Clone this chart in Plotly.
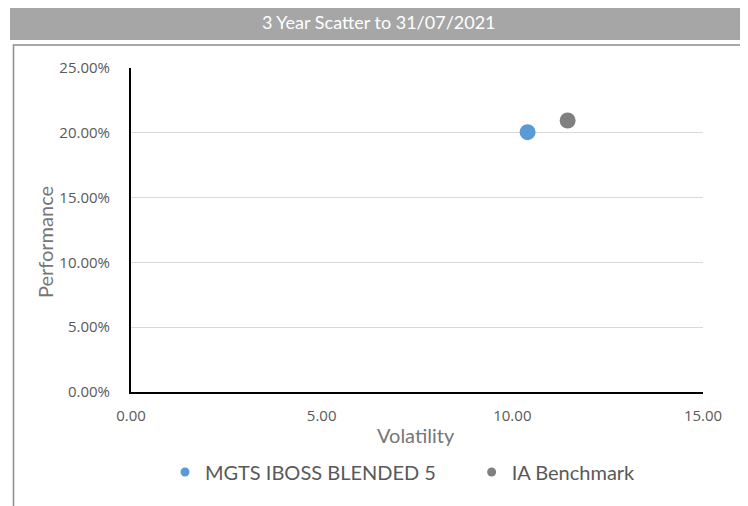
import plotly.graph_objects as go

series_names = ["MGTS IBOSS BLENDED 5", "IA Benchmark"]
volatility = [10.4, 11.45]
performance = [0.2005, 0.2095]
colors = ["#5b9bd5", "#808080"]

x_ticks = [0, 5, 10, 15]
y_ticks = [0, 0.05, 0.10, 0.15, 0.20, 0.25]

legend_pad = ["&nbsp;" * 6, ""]

fig = go.Figure()
for name, vx, vy, c, pad in zip(series_names, volatility, performance, colors, legend_pad):
    fig.add_trace(go.Scatter(x=[vx], y=[vy], mode="markers", name=name,
                             marker=dict(color=c, size=16), showlegend=False))
    fig.add_trace(go.Scatter(x=[None], y=[None], mode="markers", name=name + pad,
                             marker=dict(color=c, size=9), showlegend=True))

OFF = 8  # page offset
L, R, T, B = 131 - OFF, 703 - OFF, 68 - OFF, 392 - OFF
W, H = 748, 506
def px(x): return (x - OFF - L) / (R - L)
def py(y): return (B - (y - OFF)) / (B - T)

fig.update_layout(
    width=W, height=H,
    margin=dict(l=L, r=W - R, t=T, b=H - B, autoexpand=False),
    paper_bgcolor="white", plot_bgcolor="white",
    showlegend=True,
    legend=dict(orientation="h", x=px(165), xanchor="left", y=py(472), yanchor="middle",
                font=dict(family="Lato", size=20, color="#595959"),
                itemwidth=30, bgcolor="rgba(0,0,0,0)", traceorder="normal"),
    xaxis=dict(range=[0, 15], tickvals=x_ticks, ticktext=[f"{v:.2f}" for v in x_ticks],
               showgrid=False, showline=True, linecolor="black", linewidth=2,
               zeroline=False, ticks="", ticklabelstandoff=9,
               tickfont=dict(family="Open Sans", size=15, color="#595959"),
               fixedrange=True),
    yaxis=dict(range=[0, 0.25], tickvals=y_ticks, ticktext=[f"{v*100:.2f}%" for v in y_ticks],
               showgrid=True, gridcolor="#d9d9d9", gridwidth=1,
               showline=True, linecolor="black", linewidth=2, zeroline=False, ticks="",
               ticklabelstandoff=16,
               tickfont=dict(family="Open Sans", size=15, color="#595959"), fixedrange=True),
    shapes=[
        dict(type="rect", xref="paper", yref="paper", x0=px(10), x1=px(745), y0=py(40), y1=py(4),
             fillcolor="#a6a6a6", line=dict(width=0), layer="below"),
        dict(type="rect", xref="paper", yref="paper", x0=px(13.5), x1=px(743.5), y0=py(530), y1=py(45),
             fillcolor="rgba(0,0,0,0)", line=dict(color="#8c8c8c", width=1.5), layer="below"),
    ],
    annotations=[
        dict(text="3 Year Scatter to 31/07/2021", xref="paper", yref="paper", x=px(379), y=py(22),
             xanchor="center", yanchor="middle", showarrow=False,
             font=dict(family="Lato", size=18, color="white")),
        dict(text="Performance", xref="paper", yref="paper", x=px(45), y=py(242),
             xanchor="center", yanchor="middle", textangle=-90, showarrow=False,
             font=dict(family="Lato", size=20, color="#767676")),
        dict(text="Volatility", xref="paper", yref="paper", x=px(416), y=py(435),
             xanchor="center", yanchor="middle", showarrow=False,
             font=dict(family="Lato", size=20, color="#767676")),
    ],
)

fig.write_html("out.html")
